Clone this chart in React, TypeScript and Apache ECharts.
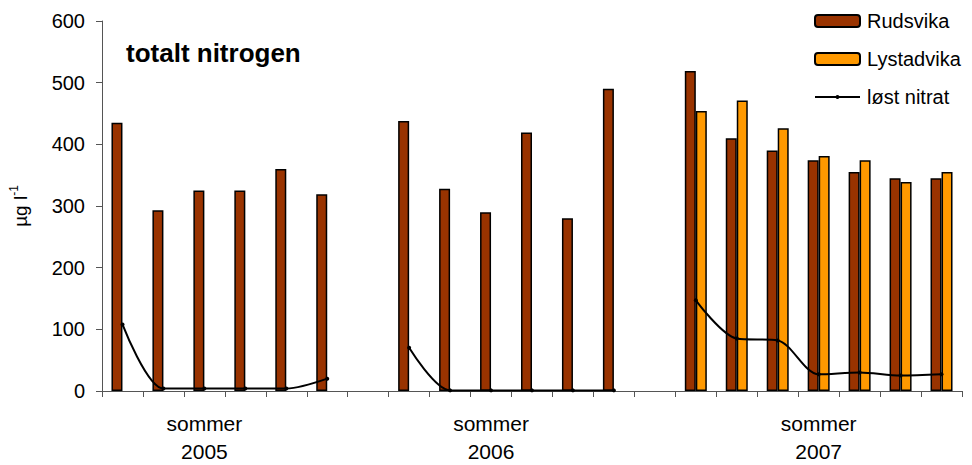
import React, { useEffect, useRef } from "react";
import * as echarts from "echarts";

const categories: string[] = [
  "", "", "sommer\n2005", "", "", "", "",
  "", "", "sommer\n2006", "", "", "", "",
  "", "", "", "sommer\n2007", "", "", "",
];

const rudsvika: (number | null)[] = [
  435, 293, 325, 325, 360, 319, null,
  438, 328, 290, 419, 280, 490, null,
  519, 410, 390, 374, 355, 345, 345,
];

const lystadvika: (number | null)[] = [
  null, null, null, null, null, null, null,
  null, null, null, null, null, null, null,
  454, 471, 426, 381, 374, 339, 355,
];

const nitrat: (number | null)[] = [
  108, 4, 4, 4, 4, 20, null,
  70, 1, 1, 1, 1, 1, null,
  147, 85, 82, 27, 30, 25, 27,
];

const yTicks = { min: 0, max: 600, interval: 100 };

const FONT = "Liberation Sans, Arial, sans-serif";

export default function App() {
  const ref = useRef<HTMLDivElement>(null);

  useEffect(() => {
    if (!ref.current) return;
    const chart = echarts.init(ref.current, null, { renderer: "svg" });
    const legendText = { fontFamily: FONT, fontSize: 20, color: "#000", lineHeight: 20, padding: [0, 0, 0, 2] };
    chart.setOption({
      animation: false,
      backgroundColor: "#ffffff",
      textStyle: { fontFamily: FONT },
      grid: { left: 98, right: 10, top: 21, bottom: 72, containLabel: false },
      title: {
        text: "totalt nitrogen",
        left: 121,
        top: 35,
        textStyle: { fontFamily: FONT, fontWeight: "bold", fontSize: 26, color: "#000" },
      },
      legend: [
        {
          orient: "vertical",
          left: 814,
          top: 11,
          padding: 0,
          itemWidth: 45,
          itemHeight: 12,
          itemGap: 18,
          textStyle: legendText,
          data: ["Rudsvika", "Lystadvika"],
        },
        {
          orient: "vertical",
          left: 814,
          top: 87,
          padding: 0,
          itemWidth: 45,
          itemHeight: 5,
          textStyle: legendText,
          data: ["løst nitrat"],
        },
      ],
      xAxis: {
        type: "category",
        data: categories,
        boundaryGap: true,
        axisLine: { lineStyle: { color: "#555", width: 1 } },
        axisTick: { show: true, interval: 0, length: 6, lineStyle: { color: "#555" } },
        axisLabel: {
          interval: 0,
          margin: 18,
          fontFamily: FONT,
          fontSize: 21,
          lineHeight: 28,
          color: "#000",
        },
        splitLine: { show: false },
      },
      yAxis: {
        type: "value",
        min: yTicks.min,
        max: yTicks.max,
        interval: yTicks.interval,
        name: "{a|µg l}{b|-1}",
        nameLocation: "middle",
        nameRotate: 90,
        nameGap: 72,
        nameTextStyle: {
          rich: {
            a: { fontFamily: FONT, fontSize: 19, color: "#000", lineHeight: 22, verticalAlign: "bottom" },
            b: { fontFamily: FONT, fontSize: 12, color: "#000", lineHeight: 22, verticalAlign: "top" },
          },
        },
        axisLine: { show: true, lineStyle: { color: "#555", width: 1 } },
        axisTick: { show: true, length: 6, lineStyle: { color: "#555" } },
        axisLabel: { margin: 17, fontFamily: FONT, fontSize: 20, color: "#000" },
        splitLine: { show: false },
      },
      series: [
        {
          name: "Rudsvika",
          type: "bar",
          data: rudsvika,
          barWidth: 11,
          barGap: "0%",
          itemStyle: { color: "#993300", borderColor: "#000", borderWidth: 1.5 },
        },
        {
          name: "Lystadvika",
          type: "bar",
          data: lystadvika,
          barWidth: 11,
          barGap: "0%",
          itemStyle: { color: "#FF9900", borderColor: "#000", borderWidth: 1.5 },
        },
        {
          name: "løst nitrat",
          type: "line",
          data: nitrat,
          smooth: 0.3,
          connectNulls: false,
          clip: false,
          symbol: "circle",
          symbolSize: 4,
          showSymbol: true,
          lineStyle: { color: "#000", width: 2 },
          itemStyle: { color: "#000" },
          z: 5,
        },
      ],
    });
    return () => chart.dispose();
  }, []);

  return (
    <div
      ref={ref}
      style={{ position: "fixed", left: 0, top: 0, width: 972, height: 465 }}
    />
  );
}
